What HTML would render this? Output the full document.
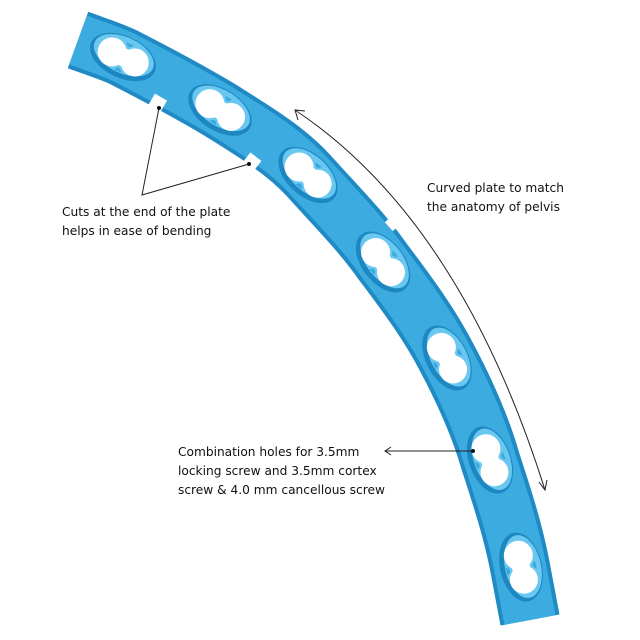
<!DOCTYPE html>
<html><head><meta charset="utf-8"><style>
html,body{margin:0;padding:0;background:#fff;}
svg{display:block;}
text{font-family:"DejaVu Sans","Liberation Sans",sans-serif;font-size:12.2px;fill:#111;}
</style></head><body>
<svg width="640" height="640" viewBox="0 0 640 640" xmlns="http://www.w3.org/2000/svg">
<defs>
<g id="hole">
  <ellipse cx="0" cy="0" rx="35" ry="21" fill="#1d87c2"/>
  <ellipse cx="0" cy="-2" rx="32" ry="18" fill="#6ac7f0"/>
  <circle cx="-12" cy="0" r="14.5" fill="#fff"/>
  <circle cx="13" cy="0" r="14" fill="#fff"/>
  <rect x="-12" y="-9" width="25" height="18" fill="#fff"/>
  <path d="M-3,-15 Q1,-8 5,-15Z" fill="#3aa9de"/>
  <path d="M-3,15 Q1,8 5,15Z" fill="#3aa9de"/>
</g>
</defs>
<path d="M78,40 C100,48 115,53 123,57 C160,76 190,92 220,110 C255,132 285,150 308,175 C335,205 362,232 383,262 C408,295 430,325 447,358 C465,392 480,425 490,460 C502,497 513,530 520,567 L530,620" fill="none" stroke="#1f8ac4" stroke-width="60" stroke-linejoin="round"/>
<path d="M78,40 C100,48 115,53 123,57 C160,76 190,92 220,110 C255,132 285,150 308,175 C335,205 362,232 383,262 C408,295 430,325 447,358 C465,392 480,425 490,460 C502,497 513,530 520,567 L530,620" fill="none" stroke="#3cabe0" stroke-width="52" stroke-linejoin="round"/>
<!-- notches -->
<rect x="150" y="96" width="14" height="16" fill="#fff" transform="rotate(30 157 104)"/>
<rect x="244" y="155" width="14" height="16" fill="#fff" transform="rotate(38 251 163)"/>
<rect x="388" y="215" width="12" height="14" fill="#fff" transform="rotate(48 394 222)"/>
<!-- holes -->
<use href="#hole" transform="translate(123,57) rotate(25)"/>
<use href="#hole" transform="translate(220,110) rotate(32)"/>
<use href="#hole" transform="translate(308,175) rotate(42)"/>
<use href="#hole" transform="translate(383,262) rotate(52)"/>
<use href="#hole" transform="translate(447,358) rotate(62)"/>
<use href="#hole" transform="translate(490,460) rotate(70)"/>
<use href="#hole" transform="translate(521,567) rotate(77)"/>
<polyline points="159,108 142,195 249,164" fill="none" stroke="#222" stroke-width="1"/>
<circle cx="159" cy="108" r="2" fill="#111"/>
<circle cx="249" cy="164" r="2" fill="#111"/>
<path d="M295,110 Q460,220 545,490" fill="none" stroke="#222" stroke-width="1"/>
<polyline points="298,120 295,110 305,111" fill="none" stroke="#222" stroke-width="1"/>
<polyline points="539,482 545,490 547,480" fill="none" stroke="#222" stroke-width="1"/>
<line x1="385" y1="451" x2="473" y2="451" stroke="#222" stroke-width="1"/>
<polyline points="391,447 385,451 391,455" fill="none" stroke="#222" stroke-width="1"/>
<circle cx="473" cy="451" r="2" fill="#111"/>
<text x="62" y="216">Cuts at the end of the plate</text>
<text x="62" y="235">helps in ease of bending</text>
<text x="427" y="192">Curved plate to match</text>
<text x="427" y="211">the anatomy of pelvis</text>
<text x="178" y="456">Combination holes for 3.5mm</text>
<text x="178" y="475">locking screw and 3.5mm cortex</text>
<text x="178" y="494">screw &amp; 4.0 mm cancellous screw</text>
</svg>
</body></html>
